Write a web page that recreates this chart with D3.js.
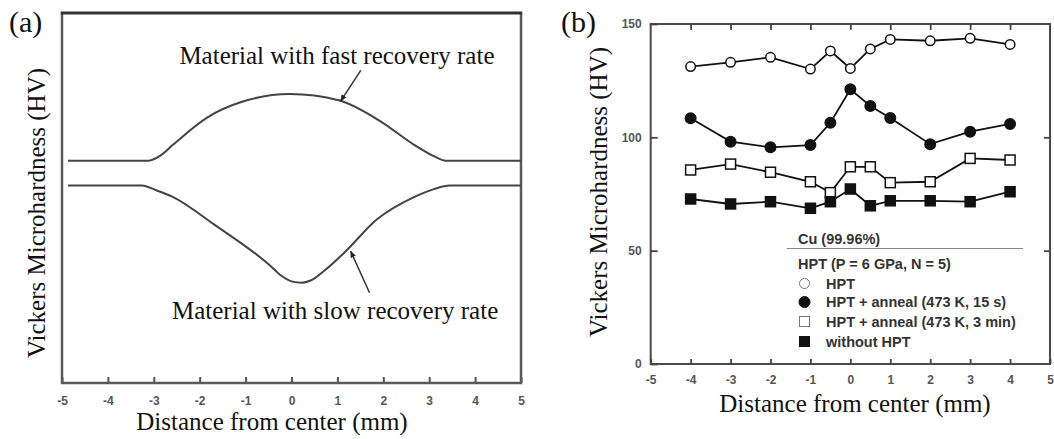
<!DOCTYPE html>
<html><head><meta charset="utf-8">
<script src="https://cdn.jsdelivr.net/npm/d3@7/dist/d3.min.js"></script>
<style>
html,body{margin:0;padding:0;background:#fff;}
svg{display:block;}
</style></head>
<body>
<svg id="chart" width="1054" height="439"></svg>
<script>
// ---------- Panel (a) data (schematic, arbitrary hardness units 0..10) ----------
const distTicks = [-5, -4, -3, -2, -1, 0, 1, 2, 3, 4, 5];
const fastDist = [-4.87, -3.11, -2.85, -2.59, -1.83, -1.08, -0.03, 1.03, 1.93, 2.68, 3.1, 3.36, 5.0];
const fastHV   = [6.01, 6.01, 6.15, 6.43, 7.18, 7.60, 7.81, 7.64, 7.08, 6.43, 6.13, 6.01, 6.01];
const slowDist = [-4.87, -3.26, -2.95, -2.59, -1.68, -0.48, -0.22, 0.02, 0.22, 0.42, 0.72, 1.18, 1.85, 2.68, 3.1, 3.44, 5.0];
const slowHV   = [5.34, 5.34, 5.21, 5.03, 4.28, 3.19, 2.90, 2.74, 2.71, 2.77, 3.04, 3.56, 4.41, 5.03, 5.24, 5.34, 5.34];
const annotTexts = ["Material with fast recovery rate", "Material with slow recovery rate"];

// ---------- Panel (b) data ----------
const distB = [-4, -3, -2, -1, -0.5, 0, 0.5, 1, 2, 3, 4];
const hvHPT      = [131.2, 133.1, 135.3, 130.1, 138.1, 130.4, 139.0, 143.2, 142.6, 143.7, 141.0];
const hvAnneal15 = [108.4, 98.1, 95.6, 96.6, 106.4, 121.2, 113.8, 108.5, 97.0, 102.5, 105.9];
const hvAnneal3m = [85.6, 88.2, 84.6, 80.4, 75.6, 87.0, 87.0, 80.0, 80.4, 90.7, 90.0];
const hvNoHPT    = [72.8, 70.6, 71.6, 68.7, 71.6, 77.2, 69.8, 72.0, 72.0, 71.6, 76.0];
const hvTicks = [0, 50, 100, 150];
const seriesNames = ["HPT", "HPT + anneal (473 K, 15 s)", "HPT + anneal (473 K, 3 min)", "without HPT"];
const seriesSymbols = ["openCircle", "filledCircle", "openSquare", "filledSquare"];
const legendTitle1 = "Cu (99.96%)";
const legendTitle2 = "HPT (P = 6 GPa, N = 5)";

const svg = d3.select("#chart");
svg.append("rect").attr("width", 1054).attr("height", 439).attr("fill", "#fff");
const defs = svg.append("defs");
defs.append("marker").attr("id", "ah").attr("viewBox", "0 0 10 10")
  .attr("refX", 9).attr("refY", 5).attr("markerWidth", 7).attr("markerHeight", 7)
  .attr("markerUnits", "userSpaceOnUse").attr("orient", "auto")
  .append("path").attr("d", "M0,1 L10,5 L0,9 Z").attr("fill", "#222");

const serif = "'Liberation Serif','DejaVu Serif',serif";
const sans = "'Liberation Sans',Arial,sans-serif";

function border(g, x0, x1, y0, y1, color, w, topColor, topW) {
  const p = `M${x0},${y0}V${y1}H${x1}V${y0}`;
  g.append("path").attr("d", p).attr("fill", "none").attr("stroke", color).attr("stroke-width", w)
    .attr("stroke-linejoin", "miter");
  g.append("path").attr("d", `M${x0 - w / 2},${y0}H${x1 + w / 2}`).attr("fill", "none")
    .attr("stroke", topColor).attr("stroke-width", topW);
}

// =================== Panel (a) ===================
const xA = d3.scaleLinear().domain([-5, 5]).range([62, 521]);
const yA = d3.scaleLinear().domain([0, 10]).range([383, 13]);
const gA = svg.append("g");

const axA = gA.append("g").attr("transform", `translate(0,${yA(0)})`)
  .call(d3.axisBottom(xA).tickValues(distTicks).tickSizeInner(-6).tickSizeOuter(0).tickPadding(13.5)
    .tickFormat(d => d < 0 ? "-" + Math.abs(d) : String(d)));
axA.select(".domain").remove();
axA.selectAll(".tick line").attr("stroke", "#555").attr("stroke-width", 2);
axA.selectAll(".tick text").attr("font-family", sans).attr("font-weight", "bold").attr("font-size", 12).attr("fill", "#555");

border(gA, xA(-5), xA(5), yA(10), yA(0), "#5a5a5a", 2.5, "#333", 3);

const lineA = d3.line().x(d => xA(d[0])).y(d => yA(d[1])).curve(d3.curveMonotoneX);
gA.append("path").datum(d3.zip(fastDist, fastHV)).attr("d", lineA)
  .attr("fill", "none").attr("stroke", "#444").attr("stroke-width", 2);
gA.append("path").datum(d3.zip(slowDist, slowHV)).attr("d", lineA)
  .attr("fill", "none").attr("stroke", "#444").attr("stroke-width", 2);

const annots = [
  {text: annotTexts[0], tx: 0.99, ty: 8.62, ax1: 1.51, ay1: 8.45, ax2: 1.07, ay2: 7.62},
  {text: annotTexts[1], tx: 0.95, ty: 1.72, ax1: 1.70, ay1: 2.44, ax2: 1.29, ay2: 3.56}
];
annots.forEach(a => {
  gA.append("text").attr("x", xA(a.tx)).attr("y", yA(a.ty)).attr("text-anchor", "middle")
    .attr("font-family", serif).attr("font-size", 25).attr("fill", "#111").text(a.text);
  gA.append("line").attr("x1", xA(a.ax1)).attr("y1", yA(a.ay1)).attr("x2", xA(a.ax2)).attr("y2", yA(a.ay2))
    .attr("stroke", "#333").attr("stroke-width", 1.5).attr("marker-end", "url(#ah)");
});

gA.append("text").attr("x", 272).attr("y", 430).attr("text-anchor", "middle")
  .attr("font-family", serif).attr("font-size", 25).attr("fill", "#111").text("Distance from center (mm)");
gA.append("text").attr("transform", "translate(45,213) rotate(-90)").attr("text-anchor", "middle")
  .attr("font-family", serif).attr("font-size", 25).attr("fill", "#111").text("Vickers Microhardness (HV)");
gA.append("text").attr("x", 9).attr("y", 32).attr("font-family", serif).attr("font-size", 30).attr("fill", "#111").text("(a)");

// =================== Panel (b) ===================
const xB = d3.scaleLinear().domain([-5, 5]).range([650.7, 1050]);
const yB = d3.scaleLinear().domain([0, 150]).range([364, 24]);
const gB = svg.append("g");

border(gB, xB(-5), xB(5), yB(150), yB(0), "#4a4a4a", 2, "#4a4a4a", 2);

const fmt = d => d < 0 ? "-" + Math.abs(d) : String(d);
const axBb = gB.append("g").attr("transform", `translate(0,${yB(0)})`)
  .call(d3.axisBottom(xB).tickValues(distTicks).tickSizeInner(-5).tickSizeOuter(0).tickPadding(11.5).tickFormat(fmt));
const axBt = gB.append("g").attr("transform", `translate(0,${yB(150)})`)
  .call(d3.axisTop(xB).tickValues(distTicks.slice(1, -1)).tickSizeInner(-6).tickSizeOuter(0).tickFormat(""));
const axBl = gB.append("g").attr("transform", `translate(${xB(-5)},0)`)
  .call(d3.axisLeft(yB).tickValues(hvTicks).tickSizeInner(-7).tickSizeOuter(0).tickPadding(9));
const axBr = gB.append("g").attr("transform", `translate(${xB(5)},0)`)
  .call(d3.axisRight(yB).tickValues(hvTicks.slice(1, -1)).tickSizeInner(-6).tickSizeOuter(0).tickFormat(""));
[axBb, axBt, axBl, axBr].forEach(ax => {
  ax.select(".domain").remove();
  ax.selectAll(".tick line").attr("stroke", "#444").attr("stroke-width", 1.8);
  ax.selectAll(".tick text").attr("font-family", sans).attr("font-weight", "bold").attr("font-size", 12).attr("fill", "#555");
});

const lineB = d3.line().x(d => xB(d[0])).y(d => yB(d[1]));
const seriesVals = [hvHPT, hvAnneal15, hvAnneal3m, hvNoHPT];

function drawSymbol(g, type, cx, cy, size, legend) {
  const strokeC = legend ? "#777" : "#111";
  if (type === "openCircle" || type === "filledCircle") {
    g.append("circle").attr("cx", cx).attr("cy", cy).attr("r", size / 2)
      .attr("fill", type === "filledCircle" ? "#111" : "#fff")
      .attr("stroke", type === "filledCircle" ? "#111" : strokeC).attr("stroke-width", legend ? 1 : 1.5);
  } else {
    g.append("rect").attr("x", cx - size / 2).attr("y", cy - size / 2).attr("width", size).attr("height", size)
      .attr("fill", type === "filledSquare" ? "#111" : "#fff")
      .attr("stroke", type === "filledSquare" ? "#111" : strokeC).attr("stroke-width", legend ? 1 : 1.5);
  }
}

seriesVals.forEach((vals, i) => {
  const pts = d3.zip(distB, vals);
  gB.append("path").datum(pts).attr("d", lineB).attr("fill", "none").attr("stroke", "#111").attr("stroke-width", 1.8);
  const isSq = seriesSymbols[i].includes("Square");
  pts.forEach(p => drawSymbol(gB, seriesSymbols[i], xB(p[0]), yB(p[1]), isSq ? 10 : (seriesSymbols[i] === "filledCircle" ? 10.5 : 9.5), false));
});

const lg = gB.append("g");
const lgFont = 14.5;
lg.append("text").attr("x", 798).attr("y", 244).attr("font-family", sans).attr("font-weight", "bold")
  .attr("font-size", lgFont).attr("fill", "#333").text(legendTitle1);
lg.append("line").attr("x1", 786.7).attr("x2", 1023).attr("y1", 248.5).attr("y2", 248.5).attr("stroke", "#888").attr("stroke-width", 1.2);
lg.append("text").attr("x", 798).attr("y", 268.5).attr("font-family", sans).attr("font-weight", "bold")
  .attr("font-size", lgFont).attr("fill", "#333").text(legendTitle2);
const rowsY = [283.5, 302, 321.5, 341.5];
seriesNames.forEach((name, i) => {
  drawSymbol(lg, seriesSymbols[i], 804.5, rowsY[i], seriesSymbols[i] === "filledCircle" ? 11 : 10, true);
  lg.append("text").attr("x", 826).attr("y", rowsY[i] + 5).attr("font-family", sans).attr("font-weight", "bold")
    .attr("font-size", lgFont).attr("fill", "#333").text(name);
});

gB.append("text").attr("x", 855).attr("y", 412).attr("text-anchor", "middle")
  .attr("font-family", serif).attr("font-size", 25).attr("fill", "#111").text("Distance from center (mm)");
gB.append("text").attr("transform", "translate(607,192) rotate(-90)").attr("text-anchor", "middle")
  .attr("font-family", serif).attr("font-size", 25).attr("fill", "#111").text("Vickers Microhardness (HV)");
gB.append("text").attr("x", 561).attr("y", 32).attr("font-family", serif).attr("font-size", 30).attr("fill", "#111").text("(b)");
</script>
</body></html>
